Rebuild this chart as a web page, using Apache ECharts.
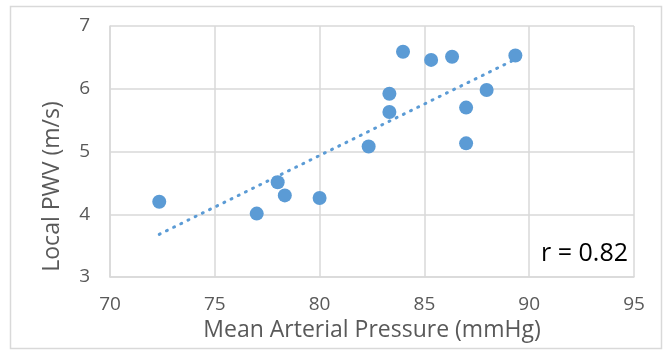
<!DOCTYPE html>
<html>
<head>
<meta charset="utf-8">
<script src="https://cdn.jsdelivr.net/npm/echarts@6/dist/echarts.min.js"></script>
<style>html,body{margin:0;padding:0;background:#fff;}#c{width:665px;height:350px;}</style>
</head>
<body>
<div id="c"></div>
<script>
// Mean arterial pressure (mmHg)
var mapValues = [72.35, 77.00, 78.00, 78.34, 80.00, 82.34, 83.33, 83.33, 83.98, 85.32, 86.32, 86.99, 86.99, 87.97, 89.34];
// Local PWV (m/s)
var pwvValues = [4.20, 4.01, 4.51, 4.30, 4.26, 5.08, 5.92, 5.63, 6.59, 6.46, 6.51, 5.70, 5.13, 5.98, 6.53];
// Linear trendline end points
var trendX = [72.35, 89.34];
var trendY = [3.68, 6.47];
var xTicks = [70, 75, 80, 85, 90, 95];
var yTicks = [3, 4, 5, 6, 7];
var xTitle = 'Mean Arterial Pressure (mmHg)';
var yTitle = 'Local PWV (m/s)';
var rLabel = 'r = 0.82';

var FONT = '"Open Sans", sans-serif';
var TXT = '#595959';
var BLUE = '#5b9bd5';
var GRID = '#d9d9d9';

var points = mapValues.map(function (x, i) { return [x, pwvValues[i]]; });
var trend = trendX.map(function (x, i) { return [x, trendY[i]]; });

var chart = echarts.init(document.getElementById('c'), null, {renderer: 'canvas'});
chart.setOption({
  animation: false,
  backgroundColor: '#fff',
  grid: {left: 110, right: 31, top: 26, bottom: 73, containLabel: false},
  xAxis: {
    type: 'value',
    min: xTicks[0], max: xTicks[xTicks.length - 1], interval: xTicks[1] - xTicks[0],
    name: xTitle, nameLocation: 'middle', nameGap: 42,
    nameTextStyle: {fontFamily: FONT, fontSize: 23, color: TXT},
    axisLine: {show: true, lineStyle: {color: GRID, width: 1.5}},
    axisTick: {show: false},
    axisLabel: {fontFamily: FONT, fontSize: 19, color: TXT, margin: 18},
    splitLine: {show: true, lineStyle: {color: GRID, width: 1.5}}
  },
  yAxis: {
    type: 'value',
    min: yTicks[0], max: yTicks[yTicks.length - 1], interval: yTicks[1] - yTicks[0],
    axisLine: {show: true, lineStyle: {color: GRID, width: 1.5}},
    axisTick: {show: false},
    axisLabel: {fontFamily: FONT, fontSize: 19, color: TXT, margin: 20},
    splitLine: {show: true, lineStyle: {color: GRID, width: 1.5}}
  },
  graphic: [
    {type: 'rect', silent: true, shape: {x: 10.5, y: 6.5, width: 651, height: 342}, style: {fill: 'none', stroke: GRID, lineWidth: 1.5}, z: -1},
    {type: 'text', x: 52, y: 186.5, rotation: Math.PI / 2, style: {text: yTitle, fontFamily: FONT, fontSize: 23, fill: TXT, align: 'center', verticalAlign: 'middle'}},
    {type: 'text', x: 628, y: 254, style: {text: rLabel, fontFamily: FONT, fontSize: 25, fill: '#000', align: 'right', verticalAlign: 'middle'}}
  ],
  series: [
    {
      type: 'scatter', data: points, symbol: 'circle', symbolSize: 14,
      itemStyle: {color: BLUE, opacity: 1}, z: 2
    },
    {
      type: 'line', data: trend, symbol: 'none', silent: true,
      lineStyle: {color: BLUE, width: 3, type: [1, 7], cap: 'round'}, z: 3
    }
  ]
});
</script>
</body>
</html>
